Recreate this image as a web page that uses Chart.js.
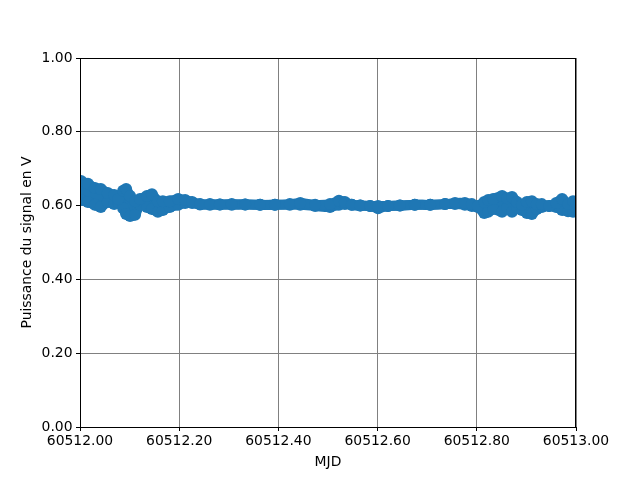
<!DOCTYPE html>
<html>
<head>
<meta charset="utf-8">
<script src="https://cdn.jsdelivr.net/npm/chart.js@4"></script>
<style>
  body { margin: 0; background: #fff; }
  canvas { display: block; }
</style>
</head>
<body>
<canvas id="signalChart" width="640" height="480"></canvas>
<script>
// MJD sample positions
const mjd = [
    60512.002, 60512.016, 60512.030, 60512.042, 60512.056, 60512.069, 60512.077, 60512.087,
    60512.093, 60512.101, 60512.111, 60512.121, 60512.135, 60512.145, 60512.157, 60512.167,
    60512.181, 60512.198, 60512.212, 60512.226, 60512.242, 60512.262, 60512.282, 60512.306,
    60512.333, 60512.363, 60512.393, 60512.423, 60512.444, 60512.474, 60512.504, 60512.522,
    60512.534, 60512.548, 60512.565, 60512.585, 60512.601, 60512.621, 60512.645, 60512.675,
    60512.706, 60512.736, 60512.756, 60512.776, 60512.790, 60512.802, 60512.815, 60512.823,
    60512.833, 60512.851, 60512.861, 60512.871, 60512.881, 60512.891, 60512.901, 60512.911,
    60512.921, 60512.931, 60512.946, 60512.960, 60512.972, 60512.984, 60512.994, 60513.000
];
// upper envelope of the signal (V)
const signalHigh = [
    0.667, 0.659, 0.648, 0.645, 0.634, 0.629, 0.618, 0.640,
    0.645, 0.626, 0.612, 0.618, 0.626, 0.631, 0.612, 0.612,
    0.612, 0.618, 0.615, 0.610, 0.604, 0.604, 0.603, 0.604,
    0.603, 0.602, 0.602, 0.604, 0.607, 0.602, 0.604, 0.613,
    0.610, 0.602, 0.600, 0.599, 0.599, 0.599, 0.600, 0.602,
    0.602, 0.604, 0.607, 0.607, 0.604, 0.599, 0.610, 0.615,
    0.618, 0.626, 0.620, 0.623, 0.610, 0.602, 0.610, 0.612,
    0.604, 0.604, 0.599, 0.607, 0.618, 0.604, 0.612, 0.610
];
// lower envelope of the signal (V)
const signalLow = [
    0.615, 0.610, 0.602, 0.596, 0.610, 0.604, 0.610, 0.593,
    0.577, 0.572, 0.575, 0.602, 0.596, 0.591, 0.583, 0.588,
    0.596, 0.602, 0.607, 0.607, 0.603, 0.602, 0.603, 0.602,
    0.603, 0.602, 0.602, 0.602, 0.602, 0.599, 0.596, 0.602,
    0.604, 0.602, 0.600, 0.599, 0.593, 0.599, 0.600, 0.602,
    0.602, 0.604, 0.604, 0.602, 0.599, 0.596, 0.580, 0.583,
    0.591, 0.583, 0.594, 0.583, 0.594, 0.588, 0.580, 0.577,
    0.591, 0.596, 0.599, 0.596, 0.588, 0.585, 0.583, 0.594
];
const xTicks = [60512.0, 60512.2, 60512.4, 60512.6, 60512.8, 60513.0];
const yTicks = [0.0, 0.2, 0.4, 0.6, 0.8, 1.0];

const blue = '#1f77b4';
const font = { family: 'DejaVu Sans', size: 13.9 };

// matplotlib-like frame on all four sides
const framePlugin = {
    id: 'frame',
    afterDraw(chart) {
        const { ctx, chartArea: a } = chart;
        ctx.save();
        ctx.strokeStyle = '#000';
        ctx.lineWidth = 1;
        ctx.strokeRect(a.left + 0.5, a.top + 0.5, a.right - a.left - 1, a.bottom - a.top);
        ctx.restore();
    }
};

const bandStyle = {
    showLine: true,
    borderColor: blue,
    borderWidth: 10,
    borderJoinStyle: 'round',
    borderCapStyle: 'round',
    pointRadius: 6,
    pointBorderWidth: 0,
    pointBackgroundColor: blue,
    backgroundColor: blue,
    tension: 0.3,
    clip: 0
};

new Chart(document.getElementById('signalChart').getContext('2d'), {
    type: 'scatter',
    data: {
        datasets: [
            { ...bandStyle, data: mjd.map((x, i) => ({ x: x, y: signalHigh[i] })) },
            { ...bandStyle, data: mjd.map((x, i) => ({ x: x, y: signalLow[i] })), fill: '-1' }
        ]
    },
    options: {
        responsive: false,
        animation: false,
        layout: { padding: { left: 0, top: 58, right: 64, bottom: 0 } },
        plugins: { legend: { display: false }, tooltip: { enabled: false } },
        scales: {
            x: {
                type: 'linear',
                min: 60512,
                max: 60513,
                afterBuildTicks: s => { s.ticks = xTicks.map(v => ({ value: v })); },
                afterFit: s => { s.height = 53; },
                ticks: { color: '#000', font: font, padding: 2, maxRotation: 0,
                         callback: v => v.toFixed(2) },
                grid: { color: '#808080', lineWidth: 1, tickColor: '#000', tickLength: 4 },
                border: { color: '#000' },
                title: { display: true, text: 'MJD', color: '#000', font: font,
                         padding: { top: 0, bottom: 9.7 } }
            },
            y: {
                min: 0,
                max: 1,
                afterBuildTicks: s => { s.ticks = yTicks.map(v => ({ value: v })); },
                afterFit: s => { s.width = 80; },
                ticks: { color: '#000', font: font, padding: 3.5,
                         callback: v => v.toFixed(2) },
                grid: { color: '#808080', lineWidth: 1, tickColor: '#000', tickLength: 4 },
                border: { color: '#000' },
                title: { display: true, text: 'Puissance du signal en V', color: '#000', font: font,
                         padding: { top: 18.7, bottom: 0 } }
            }
        }
    },
    plugins: [framePlugin]
});
</script>
</body>
</html>
